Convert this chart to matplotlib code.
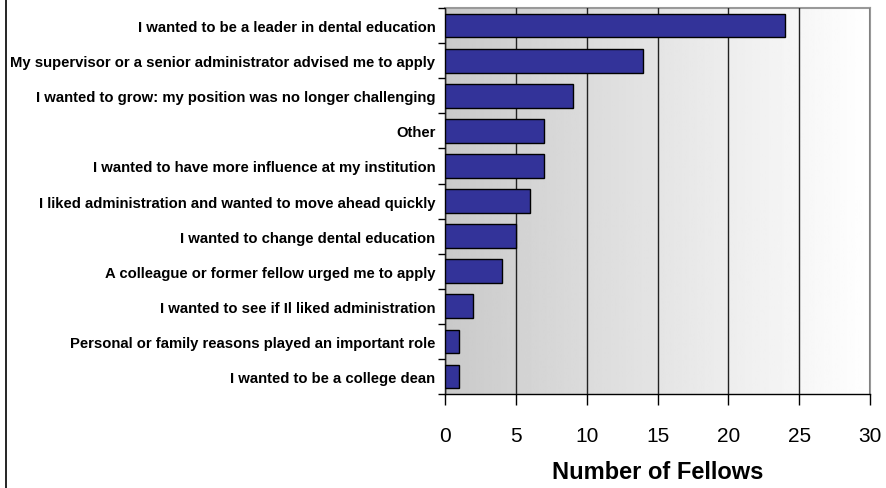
import numpy as np
import matplotlib
matplotlib.use('Agg')
import matplotlib.pyplot as plt
from matplotlib.lines import Line2D

# data, top to bottom as shown
reasons = [
    'I wanted to be a leader in dental education',
    'My supervisor or a senior administrator advised me to apply',
    'I wanted to grow: my position was no longer challenging',
    'Other',
    'I wanted to have more influence at my institution',
    'I liked administration and wanted to move ahead quickly',
    'I wanted to change dental education',
    'A colleague or former fellow urged me to apply',
    'I wanted to see if Il liked administration',
    'Personal or family reasons played an important role',
    'I wanted to be a college dean',
]
fellows = [24, 14, 9, 7, 7, 6, 5, 4, 2, 1, 1]
xticks = [0, 5, 10, 15, 20, 25, 30]

font = ['Liberation Sans', 'DejaVu Sans']

fig = plt.figure(figsize=(8.86, 4.89), dpi=100)
ax = fig.add_axes([0.5023, 0.192, 0.4797, 0.7896])

n = len(reasons)
ypos = np.arange(n)

#gradient background, gray on the left to white on the right
grad = np.linspace(0.79, 1.0, 256).reshape(1, -1)
ax.imshow(grad, cmap='gray', vmin=0, vmax=1, aspect='auto',
          extent=[0, 30, n - 0.5, -0.5], zorder=0)

ax.barh(ypos, fellows, height=0.68, color='#333399', edgecolor='black',
        linewidth=1.0, zorder=3)

ax.set_xlim(0, 30)
ax.set_ylim(n - 0.5, -0.5)

ax.set_xticks(xticks)
ax.set_xticklabels([str(t) for t in xticks], family=font, fontsize=15)
ax.xaxis.grid(True, color='#222222', linewidth=1.0, zorder=1)
ax.set_axisbelow(False)

ax.set_yticks(ypos)
ax.set_yticklabels(reasons, family=font, fontweight='bold', fontsize=10.75)
ax.set_yticks(np.arange(n + 1) - 0.5, minor=True)
ax.tick_params(axis='y', which='major', length=0, pad=7)
ax.tick_params(axis='y', which='minor', length=5, width=1, color='black')
ax.tick_params(axis='x', length=8, width=1, color='black', pad=15)

for s in ['left', 'bottom']:
    ax.spines[s].set_color('black')
    ax.spines[s].set_linewidth(1.0)
for s in ['top', 'right']:
    ax.spines[s].set_color('#999999')
    ax.spines[s].set_linewidth(1.5)

ax.set_xlabel('Number of Fellows', family=font, fontweight='bold',
              fontsize=17, labelpad=11)

#border line at the left edge of the picture
fig.add_artist(Line2D([0.0068, 0.0068], [0, 1], transform=fig.transFigure,
                      color='black', linewidth=1.2))

fig.savefig('out.png', dpi=100)
